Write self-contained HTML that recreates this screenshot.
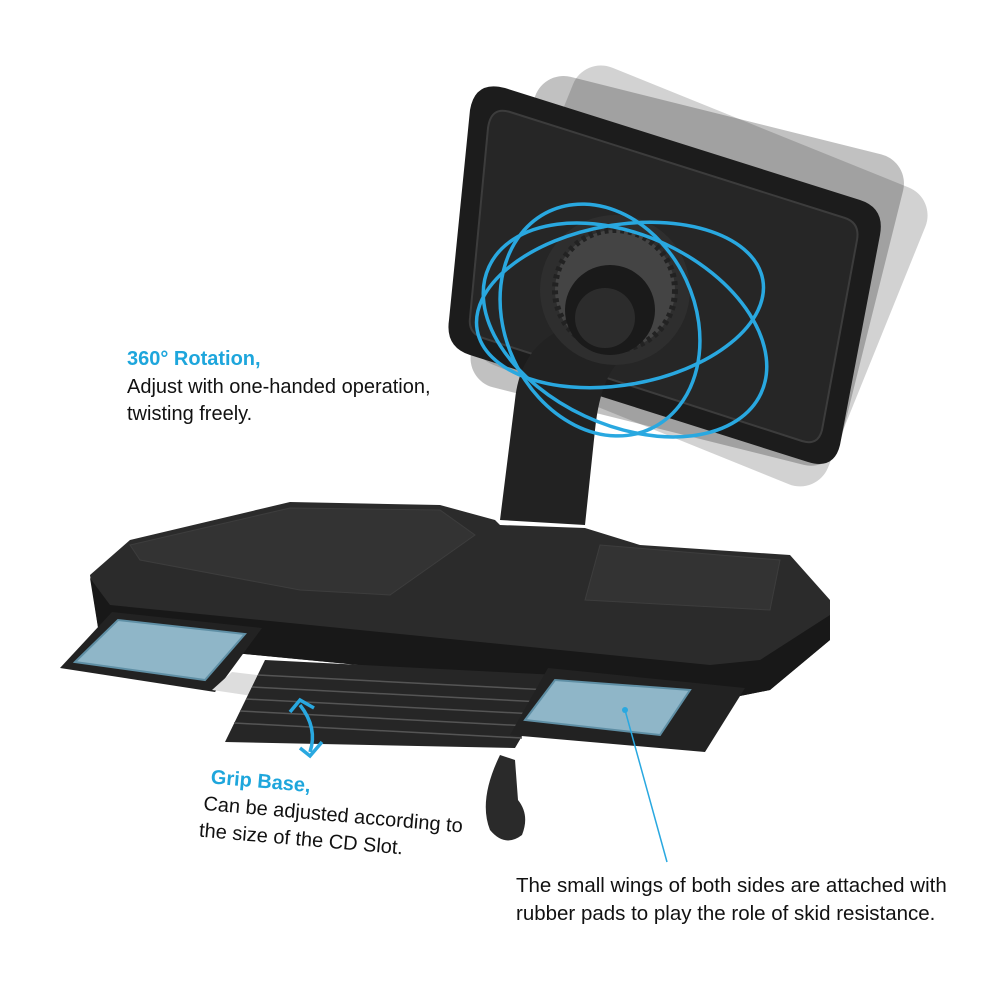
<!DOCTYPE html>
<html><head><meta charset="utf-8"><style>
html,body{margin:0;padding:0;background:#fff;}
body{width:1000px;height:1000px;position:relative;overflow:hidden;font-family:"Liberation Sans",sans-serif;}
.t{position:absolute;font-size:20px;color:#111;line-height:27px;white-space:nowrap;}
.b{color:#1ea6dc;font-weight:bold;}
</style></head><body>
<svg width="1000" height="1000" style="position:absolute;left:0;top:0">
<!-- ghost screens -->
<g opacity="0.22" transform="rotate(22 680 300)">
<rect x="500" y="110" width="380" height="320" rx="30" fill="#333"/>
</g>
<g opacity="0.3" transform="rotate(14 680 300)">
<rect x="490" y="110" width="380" height="320" rx="30" fill="#333"/>
</g>
<!-- main head -->
<path d="M505 88 L860 200 Q885 208 880 235 L840 445 Q834 470 808 462 L470 355 Q445 347 449 320 L470 110 Q475 80 505 88 Z" fill="#1c1c1c"/>
<path d="M510 112 L845 218 Q860 223 857 240 L822 430 Q818 446 802 441 L483 338 Q468 333 470 318 L488 128 Q491 106 510 112 Z" fill="#262626" stroke="#3c3c3c" stroke-width="2"/>
<!-- neck -->
<path d="M560 330 Q520 350 515 400 L500 520 L585 525 L595 430 Q600 380 620 360 Z" fill="#222"/>
<!-- ball joint -->
<circle cx="615" cy="290" r="75" fill="#2e2e2e"/>
<circle cx="615" cy="290" r="60" fill="#444" stroke="#222" stroke-width="6" stroke-dasharray="4 4"/>
<circle cx="610" cy="310" r="45" fill="#1a1a1a"/>
<circle cx="605" cy="318" r="30" fill="#2c2c2c"/>
<!-- base top -->
<path d="M90 575 L130 540 L290 502 L440 505 L495 520 L500 525 L585 528 L640 545 L790 555 L830 600 L830 640 L770 690 L720 700 L100 640 Z" fill="#2b2b2b"/>
<path d="M130 545 L290 508 L440 510 L475 535 L390 595 L300 590 L140 560 Z" fill="#333" stroke="#3d3d3d"/>
<path d="M600 545 L780 560 L770 610 L585 600 Z" fill="#333" stroke="#3d3d3d"/>
<!-- front face -->
<path d="M90 578 L100 640 L720 700 L770 690 L830 640 L830 615 L760 660 L710 665 L110 605 Z" fill="#181818"/>
<!-- left wing -->
<path d="M60 668 L112 612 L262 628 L215 692 Z" fill="#222"/>
<path d="M75 662 L118 620 L245 634 L205 680 Z" fill="#8fb6c8" stroke="#5f8fa5" stroke-width="2"/>
<!-- center grip -->
<path d="M212 690 L232 672 L300 680 L280 700 Z" fill="#ddd"/>
<path d="M225 742 L265 660 L558 675 L515 748 Z" fill="#262626"/>
<g stroke="#555" stroke-width="1.5">
<line x1="258" y1="675" x2="550" y2="690"/><line x1="252" y1="687" x2="543" y2="702"/>
<line x1="246" y1="699" x2="536" y2="714"/><line x1="240" y1="711" x2="529" y2="726"/>
<line x1="234" y1="723" x2="522" y2="738"/>
</g>
<!-- right wing -->
<path d="M510 735 L548 668 L745 688 L705 752 Z" fill="#222"/>
<path d="M525 720 L555 680 L690 690 L660 735 Z" fill="#8fb6c8" stroke="#5f8fa5" stroke-width="2"/>
<!-- hook -->
<path d="M500 755 Q478 800 490 830 Q505 848 522 835 Q530 815 518 800 L515 760 Z" fill="#2a2a2a"/>
<!-- blue rotation arrows -->
<g fill="none" stroke="#29a8e0" stroke-width="3.5">
<ellipse cx="620" cy="305" rx="145" ry="80" transform="rotate(-10 620 305)"/>
<ellipse cx="625" cy="330" rx="150" ry="95" transform="rotate(25 625 330)"/>
<ellipse cx="600" cy="320" rx="95" ry="120" transform="rotate(-25 600 320)"/>
<path d="M300 705 Q318 728 310 752"/>
<path d="M290 712 L300 700 L314 708"/>
<path d="M300 748 L310 756 L322 742"/>
</g>
<line x1="625" y1="710" x2="667" y2="862" stroke="#29a8e0" stroke-width="1.5"/>
<circle cx="625" cy="710" r="3" fill="#29a8e0"/>
</svg>
<div class="t b" style="left:127px;top:346px;font-size:20px">360° Rotation,</div>
<div class="t" style="left:127px;top:374px">Adjust with one-handed operation,</div>
<div class="t" style="left:127px;top:401px">twisting freely.</div>
<div style="position:absolute;left:207px;top:764px;transform:rotate(5deg);transform-origin:0 0">
<div class="t b" style="left:5px;top:0;font-size:20px">Grip Base,</div>
<div class="t" style="left:0;top:27px">Can be adjusted according to</div>
<div class="t" style="left:-2px;top:54px">the size of the CD Slot.</div>
</div>
<div class="t" style="left:516px;top:872px;font-size:20.5px">The small wings of both sides are attached with</div>
<div class="t" style="left:516px;top:900px;font-size:20.5px">rubber pads to play the role of skid resistance.</div>
</body></html>
